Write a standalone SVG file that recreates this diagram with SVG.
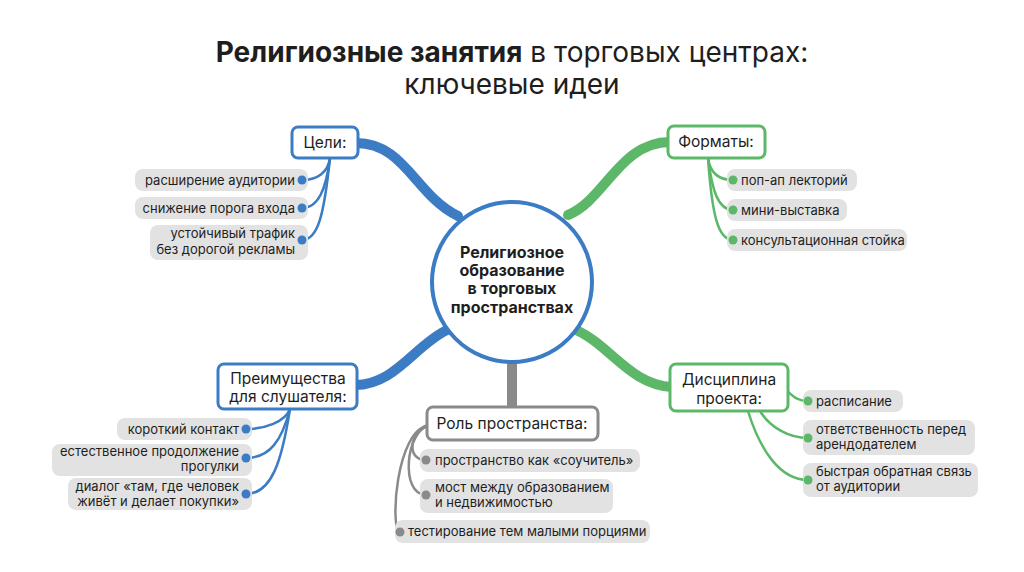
<svg xmlns="http://www.w3.org/2000/svg" width="1024" height="572" viewBox="0 0 1024 572">
<style>
.t{font-family:Inter,"Noto Sans",sans-serif;fill:#1e1e1e}
.title{font-size:28px}
.box{fill:#fff;stroke-width:3}
.lbl{font-size:15.5px;text-anchor:middle}
.pill{fill:#e2e2e2}
.pt{font-size:13px}
.b{stroke:#3b7cc4}
.g{stroke:#5cb768}
.k{stroke:#8a8a8a}
.br{fill:none;stroke-linecap:round}
.thin{fill:none;stroke-width:2.5;stroke-linecap:round}
.db{fill:#3b7cc4}.dg{fill:#5cb768}.dk{fill:#8a8a8a}
</style>
<rect width="1024" height="572" fill="#fff"/>
<text class="t title" x="512" y="62" text-anchor="middle"><tspan font-weight="700">Религиозные занятия</tspan> в торговых центрах:</text>
<text class="t title" x="512" y="94" text-anchor="middle">ключевые идеи</text>

<g id="connectors">
<path class="br b" stroke-width="10" d="M356,143 C405,143 415,195 458,216"/>
<path class="br g" stroke-width="10" d="M670,142 C620,142 605,200 568,215"/>
<path class="br b" stroke-width="10" d="M355,385 C395,385 415,345 447,330"/>
<path class="br g" stroke-width="10" d="M576,330 C610,345 630,385 672,387"/>
<path class="br k" stroke-width="10" stroke-linecap="butt" d="M512,362 L512,408"/>
<path class="thin b" d="M330,158 C328,172 318,180 302,180"/>
<path class="thin b" d="M330,158 C326,190 318,208 302,208"/>
<path class="thin b" d="M330,158 C324,215 318,240 302,240"/>
<path class="thin g" d="M708,158 C710,172 718,180 733,180"/>
<path class="thin g" d="M708,158 C712,190 718,210 733,210"/>
<path class="thin g" d="M708,158 C712,215 718,240 733,240"/>
<path class="thin b" d="M290,409 C285,422 265,429 246,429"/>
<path class="thin b" d="M290,409 C282,440 270,458 246,458"/>
<path class="thin b" d="M290,409 C282,460 272,494 246,494"/>
<path class="thin k" d="M430,425 C410,430 405,460 426,460"/>
<path class="thin k" d="M430,425 C405,430 400,495 426,495"/>
<path class="thin k" d="M430,425 C395,428 390,532 400,532"/>
<path class="thin g" d="M786,390 C795,398 798,401 808,401"/>
<path class="thin g" d="M760,411 C770,428 790,438 808,438"/>
<path class="thin g" d="M748,411 C760,450 780,480 808,480"/>
</g>

<g id="center">
<circle cx="512" cy="282" r="80" fill="#fff" stroke="#3b7cc4" stroke-width="4"/>
<text class="t" font-size="16" font-weight="700" text-anchor="middle"><tspan x="512" y="258">Религиозное</tspan><tspan x="512" y="276">образование</tspan><tspan x="512" y="294">в торговых</tspan><tspan x="512" y="313">пространствах</tspan></text>
</g>

<g id="goals">
<rect class="box b" x="292" y="127" width="66" height="31" rx="6"/>
<text class="t lbl" x="325" y="148">Цели:</text>
</g>
<g id="goal1"><rect class="pill" x="135" y="169" width="173" height="22" rx="8"/><text class="t pt" x="295" y="185" text-anchor="end">расширение аудитории</text><circle class="db" cx="302" cy="180" r="4.5"/></g>
<g id="goal2"><rect class="pill" x="135" y="197" width="173" height="22" rx="8"/><text class="t pt" x="295" y="213" text-anchor="end">снижение порога входа</text><circle class="db" cx="302" cy="208" r="4.5"/></g>
<g id="goal3"><rect class="pill" x="150" y="225" width="158" height="35" rx="8"/><text class="t pt" text-anchor="end"><tspan x="295" y="238">устойчивый трафик</tspan><tspan x="295" y="254">без дорогой рекламы</tspan></text><circle class="db" cx="302" cy="240" r="4.5"/></g>

<g id="formats">
<rect class="box g" x="668" y="126" width="97" height="32" rx="6"/>
<text class="t lbl" x="716" y="147">Форматы:</text>
</g>
<g id="fmt1"><rect class="pill" x="727" y="169" width="130" height="22" rx="8"/><text class="t pt" x="741" y="185">поп-ап лекторий</text><circle class="dg" cx="733" cy="180" r="4.5"/></g>
<g id="fmt2"><rect class="pill" x="727" y="199" width="120" height="22" rx="8"/><text class="t pt" x="741" y="215">мини-выставка</text><circle class="dg" cx="733" cy="210" r="4.5"/></g>
<g id="fmt3"><rect class="pill" x="727" y="229" width="180" height="22" rx="8"/><text class="t pt" x="741" y="245">консультационная стойка</text><circle class="dg" cx="733" cy="240" r="4.5"/></g>

<g id="benefits">
<rect class="box b" x="218" y="364" width="139" height="45" rx="6"/>
<text class="t lbl"><tspan x="288" y="384">Преимущества</tspan><tspan x="288" y="402">для слушателя:</tspan></text>
</g>
<g id="ben1"><rect class="pill" x="117" y="418" width="135" height="22" rx="8"/><text class="t pt" x="239" y="434" text-anchor="end">короткий контакт</text><circle class="db" cx="246" cy="429" r="4.5"/></g>
<g id="ben2"><rect class="pill" x="52" y="444" width="200" height="32" rx="8"/><text class="t pt" text-anchor="end"><tspan x="239" y="456">естественное продолжение</tspan><tspan x="239" y="471">прогулки</tspan></text><circle class="db" cx="246" cy="458" r="4.5"/></g>
<g id="ben3"><rect class="pill" x="68" y="478" width="184" height="32" rx="8"/><text class="t pt" text-anchor="end"><tspan x="239" y="491">диалог «там, где человек</tspan><tspan x="239" y="506">живёт и делает покупки»</tspan></text><circle class="db" cx="246" cy="494" r="4.5"/></g>

<g id="role">
<rect class="box k" x="427" y="407" width="171" height="33" rx="6"/>
<text class="t lbl" x="512" y="429">Роль пространства:</text>
</g>
<g id="role1"><rect class="pill" x="420" y="449" width="220" height="23" rx="8"/><text class="t pt" x="435" y="465">пространство как «соучитель»</text><circle class="dk" cx="426" cy="460" r="4.5"/></g>
<g id="role2"><rect class="pill" x="420" y="479" width="193" height="34" rx="8"/><text class="t pt"><tspan x="435" y="492">мост между образованием</tspan><tspan x="435" y="507">и недвижимостью</tspan></text><circle class="dk" cx="426" cy="495" r="4.5"/></g>
<g id="role3"><rect class="pill" x="395" y="520" width="255" height="23" rx="8"/><text class="t pt" x="408" y="536">тестирование тем малыми порциями</text><circle class="dk" cx="400" cy="532" r="4.5"/></g>

<g id="discipline">
<rect class="box g" x="670" y="364" width="118" height="47" rx="6"/>
<text class="t lbl"><tspan x="729" y="385">Дисциплина</tspan><tspan x="729" y="404">проекта:</tspan></text>
</g>
<g id="dis1"><rect class="pill" x="803" y="390" width="100" height="22" rx="8"/><text class="t pt" x="816" y="406">расписание</text><circle class="dg" cx="808" cy="401" r="4.5"/></g>
<g id="dis2"><rect class="pill" x="803" y="420" width="172" height="35" rx="8"/><text class="t pt"><tspan x="816" y="434">ответственность перед</tspan><tspan x="816" y="449">арендодателем</tspan></text><circle class="dg" cx="808" cy="438" r="4.5"/></g>
<g id="dis3"><rect class="pill" x="803" y="463" width="175" height="34" rx="8"/><text class="t pt"><tspan x="816" y="476">быстрая обратная связь</tspan><tspan x="816" y="491">от аудитории</tspan></text><circle class="dg" cx="808" cy="480" r="4.5"/></g>
</svg>
